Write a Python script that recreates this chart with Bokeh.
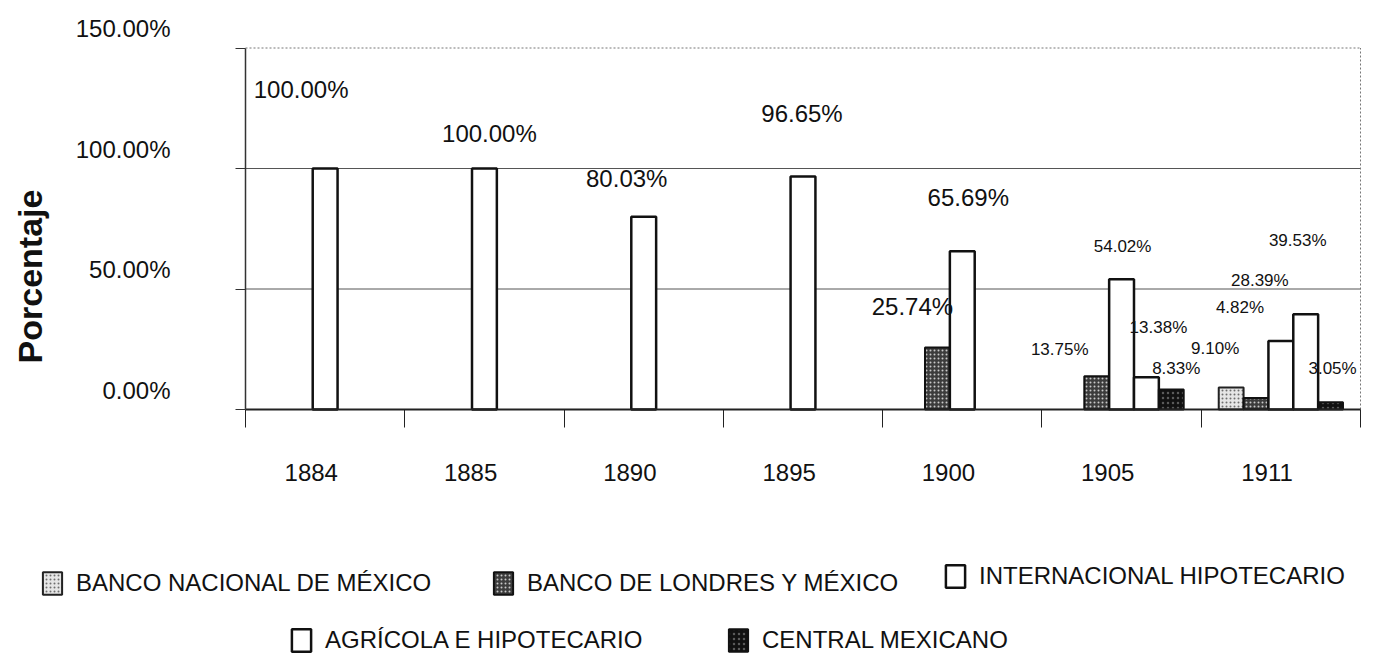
import numpy as np
from math import pi
from bokeh.plotting import figure
from bokeh.models import (Range1d, FixedTicker, Label, ColumnDataSource, Legend, LegendItem,
                          LinearAxis)
from bokeh.embed import file_html
from bokeh.resources import INLINE

# ---------------- data ----------------
years = ["1884", "1885", "1890", "1895", "1900", "1905", "1911"]
series_names = ["BANCO NACIONAL DE MÉXICO", "BANCO DE LONDRES Y MÉXICO",
                "INTERNACIONAL HIPOTECARIO", "AGRÍCOLA E HIPOTECARIO",
                "CENTRAL MEXICANO"]
nacional = [None, None, None, None, None, None, 9.10]
londres = [None, None, None, None, 25.74, 13.75, 4.82]
internacional = [100.00, 100.00, 80.03, 96.65, 65.69, 54.02, 28.39]
agricola = [None, None, None, None, None, 13.38, 39.53]
central = [None, None, None, None, None, 8.33, 3.05]
y_ticks = [0, 50, 100, 150]
y_tick_labels = ["0.00%", "50.00%", "100.00%", "150.00%"]
grid_values = [50, 100]
y_max = 150

series_values = [nacional, londres, internacional, agricola, central]

# ---------------- layout / styles ----------------
W, H = 1373, 658
PX_LEFT, PX_RIGHT, PX_ZERO, PX_PER_PCT = 245, 1360, 409, 2.41
FONT = "Liberation Sans"
INK = "#111111"
styles = [
    dict(fill_color="#e6e6e6", hatch_pattern="dot", hatch_color="#6e6e6e", hatch_scale=4, hatch_weight=1.5,
         line_color="#222222", line_width=2),
    dict(fill_color="#3c3c3c", hatch_pattern="dot", hatch_color="#c8c8c8", hatch_scale=4, hatch_weight=1.5,
         line_color="#111111", line_width=2),
    dict(fill_color="#ffffff", line_color="#111111", line_width=2.5),
    dict(fill_color="#ffffff", line_color="#111111", line_width=2.5),
    dict(fill_color="#111111", hatch_pattern="dot", hatch_color="#5a5a5a", hatch_scale=5, hatch_weight=1.5,
         line_color="#111111", line_width=2),
]
bar_w = 0.156
label_shift = 7.9       # y tick labels sit above their gridline
year_shift = 0.087      # year labels sit left of the category centre
# data-label offsets (pixels right, pixels up from bar top), year-then-series order
label_dx = [-24, 5, -17, -1, -25, 6, -37, 1, 12, 5, -16, -16, -21, -8, 2]
label_dy = [79, 35, 38, 63, 41, 54, 27, 33, 50, 21, 39, 90, 61, 74, 34]
label_size = ["24px"] * 6 + ["17px"] * 9
# legend boxes: (left px, bottom px measured up from the canvas bottom)
legend_locs = [(40, 61), (491, 61), (943, 68), (289, 4), (726, 4)]

n = len(years)
px_per_cat = (PX_RIGHT - PX_LEFT) / n
x0, x1 = -PX_LEFT / px_per_cat, (W - PX_LEFT) / px_per_cat
y0, y1 = -(H - PX_ZERO) / PX_PER_PCT, PX_ZERO / PX_PER_PCT

p = figure(width=W, height=H, x_range=Range1d(x0, x1), y_range=Range1d(y0, y1),
           output_backend="svg", toolbar_location=None, min_border=0)
p.outline_line_color = None
p.xgrid.visible = False
p.ygrid.visible = False
p.extra_y_ranges = {"lab": Range1d(y0 - label_shift, y1 - label_shift)}
p.extra_x_ranges = {"lab": Range1d(x0 - 0.5 + year_shift, x1 - 0.5 + year_shift)}

# x axis at value 0: ticks at category boundaries
p.xaxis.fixed_location = 0
p.xaxis.bounds = (0, n)
p.xaxis.ticker = FixedTicker(ticks=list(range(n + 1)))
p.xaxis.major_label_overrides = {i: "" for i in range(n + 1)}
p.xaxis.major_label_standoff = 0
p.xaxis.major_tick_out = 18
p.xaxis.major_tick_in = 0
p.xaxis.minor_tick_line_color = None
p.xaxis.axis_line_color = "#222222"
p.xaxis.axis_line_width = 2
p.xaxis.major_tick_line_color = "#222222"

# year labels
xlab = LinearAxis(x_range_name="lab", fixed_location=0, ticker=FixedTicker(ticks=list(range(n))),
                  major_label_overrides={i: y for i, y in enumerate(years)},
                  axis_line_color=None, major_tick_line_color=None, minor_tick_line_color=None,
                  major_tick_out=0, major_tick_in=0,
                  major_label_standoff=54, major_label_text_font=FONT,
                  major_label_text_font_size="24px", major_label_text_color=INK)
p.add_layout(xlab, "below")

# y axis: tick marks only
p.yaxis.fixed_location = 0
p.yaxis.ticker = FixedTicker(ticks=y_ticks)
p.yaxis.bounds = (0, y_max)
p.yaxis.major_label_overrides = {t: "" for t in y_ticks}
p.yaxis.major_label_standoff = 0
p.yaxis.major_tick_out = 10
p.yaxis.major_tick_in = 0
p.yaxis.minor_tick_line_color = None
p.yaxis.axis_line_color = "#333333"
p.yaxis.axis_line_width = 1.5
p.yaxis.major_tick_line_color = "#333333"

# y tick labels (sit slightly above their tick)
ylab = LinearAxis(y_range_name="lab", fixed_location=0, ticker=FixedTicker(ticks=y_ticks),
                  major_label_overrides=dict(zip(y_ticks, y_tick_labels)),
                  axis_line_color=None, major_tick_line_color=None, minor_tick_line_color=None,
                  major_tick_out=0, major_tick_in=0,
                  major_label_standoff=75, major_label_text_font=FONT,
                  major_label_text_font_size="24px", major_label_text_color=INK)
p.add_layout(ylab, "left")

# gridlines and dotted chart box
p.segment(x0=[0] * len(grid_values), x1=[n] * len(grid_values), y0=grid_values, y1=grid_values,
          line_color="#555555", line_width=1)
p.segment(x0=[0, n], x1=[n, n], y0=[y_max, 0], y1=[y_max, y_max],
          line_color="#777777", line_width=1, line_dash="2 2")

x_centers = np.arange(n) + 0.5
renderers = []
for k, vals in enumerate(series_values):
    xs = [x_centers[i] + (k - 2) * bar_w for i, v in enumerate(vals) if v is not None]
    tops = [v for v in vals if v is not None]
    src = ColumnDataSource(dict(x=xs, top=tops))
    renderers.append(p.vbar(x="x", top="top", bottom=0, width=bar_w, source=src, **styles[k]))

# data labels
j = 0
for i in range(n):
    for k, vals in enumerate(series_values):
        v = vals[i]
        if v is None:
            continue
        p.add_layout(Label(x=x_centers[i] + (k - 2) * bar_w, y=v, text=f"{v:.2f}%",
                           x_offset=label_dx[j], y_offset=label_dy[j],
                           text_align="center", text_baseline="middle",
                           text_font=FONT, text_font_size=label_size[j], text_color=INK))
        j += 1

# y axis title
p.add_layout(Label(x=(29 - PX_LEFT) / px_per_cat, y=(PX_ZERO - 276) / PX_PER_PCT, text="Porcentaje",
                   angle=pi / 2, text_align="center", text_baseline="middle",
                   text_font=FONT, text_font_size="34px", text_font_style="bold", text_color=INK))

# legends: one per item, placed in the area under the chart
for k, name in enumerate(series_names):
    lg = Legend(items=[LegendItem(label=name, renderers=[renderers[k]])],
                location=legend_locs[k], border_line_color=None, background_fill_alpha=0,
                padding=0, margin=0, glyph_width=24, glyph_height=28, label_standoff=12,
                label_height=28, label_text_font=FONT, label_text_font_size="24px",
                label_text_color=INK)
    p.add_layout(lg, "center")

open("out.html", "w").write(file_html(p, INLINE))
